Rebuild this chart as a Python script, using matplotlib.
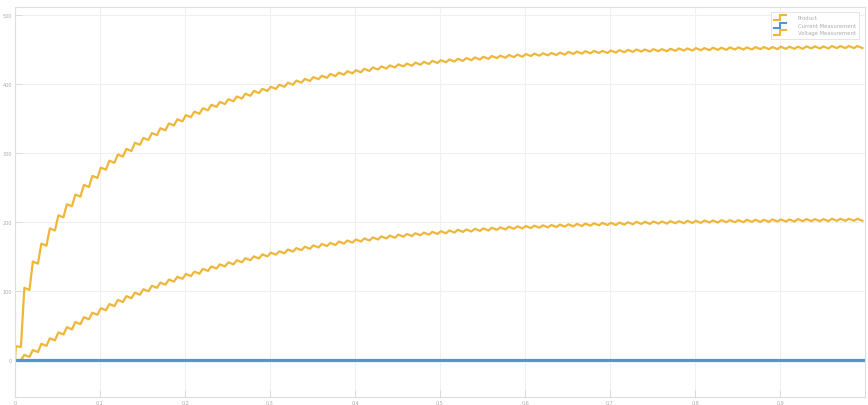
import numpy as np
import matplotlib
matplotlib.use("Agg")
import matplotlib.pyplot as plt
from matplotlib.legend_handler import HandlerBase
from matplotlib.lines import Line2D

# Scope traces, one high/low pair per 10 ms ripple period
period = 0.01
product_high = [20, 104.5, 142.5, 168.5, 190.5, 209.5, 225.5, 239.5, 253.5, 266.5, 278.5, 288.5, 297.5, 305.5, 314.5, 321.5, 328.5, 335.5, 342.5, 348.5,
                354.5, 359.5, 364.5, 369.5, 373.5, 377.5, 381.5, 385.5, 389.5, 392.5, 395.5, 398.5, 401.5, 404.5, 407, 409.5, 411.5, 414, 416, 418,
                419.5, 421.5, 423.5, 425, 426.5, 428, 429, 430.5, 431.5, 433, 434, 435, 436, 437, 438, 439, 440, 440.5, 441.5, 442,
                443, 443.5, 444, 444.5, 445, 446, 446.5, 447, 447.5, 447.5, 448, 448.5, 449, 449.5, 449.5, 450, 450, 450.5, 451, 451,
                451.5, 451.5, 452, 452, 452.5, 452.5, 452.5, 453, 453, 453, 453.5, 453.5, 453.5, 454, 454, 454, 454.5, 454.5, 454.5, 454.5]
product_low = [19, 101.5, 139.5, 165.5, 187.5, 206.5, 222.5, 236.5, 250.5, 263.5, 275.5, 285.5, 294.5, 302.5, 311.5, 318.5, 325.5, 332.5, 339.5, 345.5,
               351.5, 356.5, 361.5, 366.5, 370.5, 374.5, 378.5, 382.5, 386.5, 389.5, 392.5, 395.5, 398.5, 401.5, 404, 406.5, 408.5, 411, 413, 415,
               416.5, 418.5, 420.5, 422, 423.5, 425, 426, 427.5, 428.5, 430, 431, 432, 433, 434, 435, 436, 437, 437.5, 438.5, 439,
               440, 440.5, 441, 441.5, 442, 443, 443.5, 444, 444.5, 444.5, 445, 445.5, 446, 446.5, 446.5, 447, 447, 447.5, 448, 448,
               448.5, 448.5, 449, 449, 449.5, 449.5, 449.5, 450, 450, 450, 450.5, 450.5, 450.5, 451, 451, 451, 451.5, 451.5, 451.5, 451.5]
voltage_high = [0, 7.5, 14.5, 23.5, 31.5, 40, 47.5, 55, 62, 68.5, 75, 81, 87, 92.5, 97.5, 102.5, 107.5, 112, 116.5, 120.5,
                124.5, 128, 132, 135.5, 138.5, 141.5, 144.5, 147.5, 150, 153, 155.5, 157.5, 160, 162, 164, 166, 168, 169.5, 171.5, 173,
                174.5, 176, 177.5, 179, 180, 181.5, 182.5, 183.5, 184.5, 185.5, 186.5, 187.5, 188.5, 189, 190, 190.5, 191.5, 192, 193, 193.5,
                194, 194.5, 195, 195.5, 196, 196.5, 197, 197.5, 198, 198.5, 198.5, 199, 199.5, 200, 200, 200.5, 200.5, 201, 201, 201.5,
                201.5, 202, 202, 202.5, 202.5, 202.5, 203, 203, 203, 203.5, 203.5, 203.5, 204, 204, 204, 204, 204.5, 204.5, 204.5, 204.5]
voltage_low = [0, 4.5, 11.5, 20.5, 28.5, 37, 44.5, 52, 59, 65.5, 72, 78, 84, 89.5, 94.5, 99.5, 104.5, 109, 113.5, 117.5,
               121.5, 125, 129, 132.5, 135.5, 138.5, 141.5, 144.5, 147, 150, 152.5, 154.5, 157, 159, 161, 163, 165, 166.5, 168.5, 170,
               171.5, 173, 174.5, 176, 177, 178.5, 179.5, 180.5, 181.5, 182.5, 183.5, 184.5, 185.5, 186, 187, 187.5, 188.5, 189, 190, 190.5,
               191, 191.5, 192, 192.5, 193, 193.5, 194, 194.5, 195, 195.5, 195.5, 196, 196.5, 197, 197, 197.5, 197.5, 198, 198, 198.5,
               198.5, 199, 199, 199.5, 199.5, 199.5, 200, 200, 200, 200.5, 200.5, 200.5, 201, 201, 201, 201, 201.5, 201.5, 201.5, 201.5]
current_time = [0.0, 1.0]
current_values = [0.0, 0.0]

labels = ["Product", "Current Measurement", "Voltage Measurement"]
x_ticks = [0, 0.1, 0.2, 0.3, 0.4, 0.5, 0.6, 0.7, 0.8, 0.9]
x_tick_labels = ["0", "0.1", "0.2", "0.3", "0.4", "0.5", "0.6", "0.7", "0.8", "0.9"]
y_ticks = [0, 100, 200, 300, 400, 500]
y_tick_labels = ["0", "100", "200", "300", "400", "500"]

YELLOW = "#EFB73A"
BLUE = "#4F97D4"
GRID = "#F0F0F0"
FRAME = "#DEDEDE"
TEXT = "#ABABAB"


def ripple_trace(high, low):
    """Interleave the per-period high and low samples into one polyline."""
    n = len(high)
    t_high = np.arange(n) * period + 0.001
    t_low = np.arange(n) * period + 0.007
    t = np.empty(2 * n)
    v = np.empty(2 * n)
    t[0::2], t[1::2] = t_high, t_low
    v[0::2], v[1::2] = high, low
    return np.concatenate([[0.0], t]), np.concatenate([[0.0], v])


class StepHandler(HandlerBase):
    def create_artists(self, legend, orig_handle, xdescent, ydescent, width, height, fontsize, trans):
        xs = np.array([0.0, 0.5, 0.5, 1.0]) * width - xdescent
        ys = np.array([-0.1, -0.1, 1.0, 1.0]) * height - ydescent
        line = Line2D(xs, ys, color=orig_handle.get_color(), lw=1.5,
                      solid_joinstyle="miter", transform=trans)
        return [line]


fig = plt.figure(figsize=(8.68, 4.06), dpi=100)
fig.patch.set_facecolor("white")
ax = fig.add_axes([15 / 868, 1 - 398 / 406, 850 / 868, 390 / 406])

tp, vp = ripple_trace(product_high, product_low)
tv, vv = ripple_trace(voltage_high, voltage_low)
l_prod, = ax.plot(tp, vp, color=YELLOW, lw=1.6, solid_joinstyle="round")
l_volt, = ax.plot(tv, vv, color=YELLOW, lw=1.6, solid_joinstyle="round")
l_curr, = ax.plot(current_time, current_values, color=BLUE, lw=2.3)

ax.set_xlim(0, 1.0)
ax.set_ylim(-53.5, 511)
ax.set_xticks(x_ticks)
ax.set_xticklabels(x_tick_labels)
ax.set_yticks(y_ticks)
ax.set_yticklabels(y_tick_labels)
ax.grid(True, color=GRID, lw=0.8)
ax.set_axisbelow(True)
for s in ax.spines.values():
    s.set_color(FRAME)
    s.set_linewidth(0.8)
ax.tick_params(axis="both", direction="in", length=5, width=0.6, color="#D6D6D6",
               labelsize=3.5, labelcolor=TEXT, pad=2)

leg = ax.legend([l_prod, l_curr, l_volt], labels,
                handler_map={Line2D: StepHandler()},
                loc="upper right", bbox_to_anchor=(859 / 868, 1 - 13 / 406),
                bbox_transform=fig.transFigure, borderaxespad=0,
                fontsize=3.8, handlelength=2.2, handleheight=1.0, handletextpad=2.3,
                labelspacing=0.45, borderpad=0.6, fancybox=False, framealpha=1)
leg.get_frame().set_edgecolor("#E0E0E0")
leg.get_frame().set_linewidth(0.6)
for txt in leg.get_texts():
    txt.set_color(TEXT)

fig.savefig("out.png", dpi=100, facecolor="white")
